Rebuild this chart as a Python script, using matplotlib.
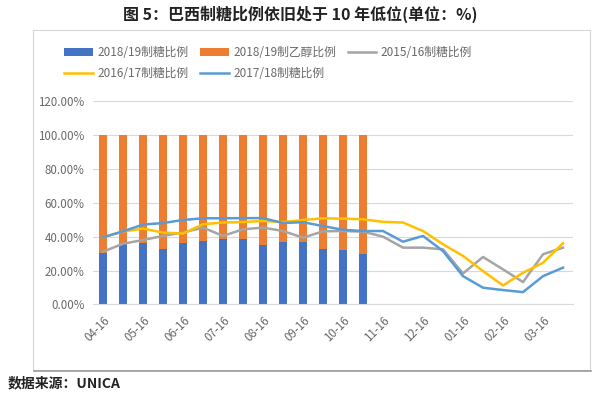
import numpy as np
import matplotlib
matplotlib.use('Agg')
import matplotlib.pyplot as plt
from matplotlib.patches import Rectangle
from matplotlib.lines import Line2D
from matplotlib.ticker import PercentFormatter

plt.rcParams['font.family'] = ['Noto Sans CJK SC', 'DejaVu Sans']

### data (values in %)
months = ['04-16', '05-16', '06-16', '07-16', '08-16', '09-16',
          '10-16', '11-16', '12-16', '01-16', '02-16', '03-16']

sugar_1819 = [30.5, 35.5, 36.4, 32.7, 36.4, 37.2, 38.3,
              38.3, 35.0, 36.7, 36.7, 32.9, 32.0, 30.0]
ethanol_1819 = [69.5, 64.5, 63.6, 67.3, 63.6, 62.8, 61.7,
                61.7, 65.0, 63.3, 63.3, 67.1, 68.0, 70.0]

sugar_1516 = [31.1, 35.8, 38.0, 40.4, 42.4, 45.3, 40.4, 44.3, 45.3, 43.3, 39.4, 43.1,
              43.3, 42.9, 40.0, 33.5, 33.5, 32.5, 18.3, 28.0, 20.7, 13.2, 29.6, 33.5]
sugar_1617 = [39.6, 43.0, 44.7, 42.4, 41.8, 47.3, 48.3, 48.6, 49.2, 48.6, 49.8, 50.8,
              50.6, 50.2, 48.7, 48.3, 43.3, 35.5, 28.6, 19.7, 11.2, 18.7, 24.6, 36.1]
sugar_1718 = [39.6, 43.1, 47.1, 48.0, 49.8, 50.8, 50.8, 50.9, 50.9, 48.0, 48.5, 46.2,
              44.0, 43.3, 43.3, 37.0, 40.4, 31.5, 16.7, 9.9, 8.5, 7.3, 16.7, 21.7]

colors = {
    'bar_sugar': '#4472C4',
    'bar_eth': '#ED7D31',
    '1516': '#A5A5A5',
    '1617': '#FFC000',
    '1718': '#5B9BD5',
}

fig = plt.figure(figsize=(6.0, 3.97), dpi=100)

# outer chart frame
fig.patches.append(Rectangle((33 / 600, 1 - 370 / 397), 557 / 600, 340 / 397,
                             transform=fig.transFigure, fill=False,
                             edgecolor='#d6d6d6', linewidth=0.8))
fig.lines.append(Line2D([34 / 600, 591 / 600], [1 - 371 / 397, 1 - 371 / 397],
                        transform=fig.transFigure, color='#9a9a9a', linewidth=1.2))

ax = fig.add_axes([0.155, 0.233, 0.80, 0.513])

xb = np.arange(len(sugar_1819))
xl = np.arange(len(sugar_1718))
bw = 0.4
ax.bar(xb, sugar_1819, bw, color=colors['bar_sugar'], label='2018/19制糖比例', zorder=2)
ax.bar(xb, ethanol_1819, bw, bottom=sugar_1819, color=colors['bar_eth'],
       label='2018/19制乙醇比例', zorder=2)
ax.plot(xl, sugar_1516, color=colors['1516'], lw=1.8, label='2015/16制糖比例', zorder=3)
ax.plot(xl, sugar_1617, color=colors['1617'], lw=1.8, label='2016/17制糖比例', zorder=4)
ax.plot(xl, sugar_1718, color=colors['1718'], lw=1.8, label='2017/18制糖比例', zorder=5)

ax.set_xlim(-0.5, len(xl) - 0.5)
ax.set_ylim(0, 120)
ax.set_yticks(np.arange(0, 121, 20))
ax.yaxis.set_major_formatter(PercentFormatter(decimals=2))
ax.set_xticks(xl[::2])
ax.set_xticklabels(months, rotation=45, ha='right', rotation_mode='anchor')
ax.tick_params(axis='both', length=0, labelsize=8.3, colors='#6a6a6a')
ax.tick_params(axis='x', pad=7)
ax.tick_params(axis='y', pad=6)
ax.grid(axis='y', color='#d9d9d9', linewidth=0.8, zorder=0)
ax.set_axisbelow(True)
for s in ['top', 'right', 'left']:
    ax.spines[s].set_visible(False)
ax.spines['bottom'].set_color('#d9d9d9')

# legend, reordered so it fills row by row
h, l = ax.get_legend_handles_labels()
h_map = dict(zip(l, h))
names = ['2018/19制糖比例', '2016/17制糖比例', '2018/19制乙醇比例',
         '2017/18制糖比例', '2015/16制糖比例']
leg = fig.legend([h_map[n] for n in names], names, ncol=3, loc='center',
                 bbox_to_anchor=(0.447, 1 - 63 / 397), frameon=False,
                 fontsize=8.5, handlelength=2.4, handletextpad=0.4,
                 columnspacing=1.0, labelspacing=0.65, handleheight=0.6)
for t in leg.get_texts():
    t.set_color('#6a6a6a')

fig.text(0.5, 1 - 14 / 397, '图 5：巴西制糖比例依旧处于 10 年低位(单位：%)',
         ha='center', va='center', fontsize=11.5, fontweight='bold', color='#222222')
fig.text(8 / 600, 1 - 383 / 397, '数据来源：UNICA', ha='left', va='center',
         fontsize=10, fontweight='bold', color='#222222')

fig.savefig('out.png', dpi=100)
